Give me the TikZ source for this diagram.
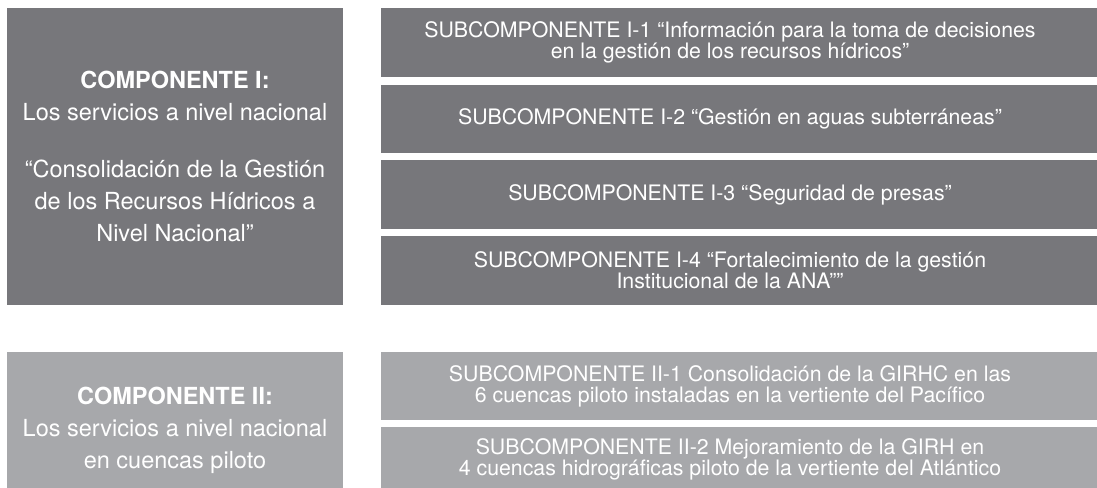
\documentclass[tikz,border=0pt]{standalone}
\usepackage{fontspec}
\setmainfont{TeX Gyre Heros}
\definecolor{darkbox}{HTML}{77777B}
\definecolor{lightbox}{HTML}{A7A8AB}
\newcommand\subfont{\fontsize{21.3}{21}\selectfont\lineskiplimit-30pt\relax}
\newcommand\compfont{\fontsize{23.5}{32}\selectfont}
\begin{document}
\begin{tikzpicture}[x=1pt,y=-1pt,
  box/.style={inner sep=0pt, outer sep=0pt, anchor=north west, text=white, align=center},
  compbox/.style={box, minimum width=336pt, font=\compfont},
  subbox/.style={box, minimum width=716pt, font=\subfont},
  darkfill/.style={fill=darkbox},
  lightfill/.style={fill=lightbox},
  subtext/.style={text=white, align=center, font=\subfont, inner sep=0pt}]
\useasboundingbox (0,0) rectangle (1097,487);
\clip (0,0) rectangle (1097,487);
% Componente I
\node[compbox, darkfill, minimum height=297pt] (c1) at (7,8)
  {\textbf{COMPONENTE I:}\\ Los servicios a nivel nacional\\[25pt]
   “Consolidación de la Gestión\\ de los Recursos Hídricos a\\ Nivel Nacional”};
\node[subbox, darkfill, minimum height=69pt] (s11) at (381,8) {};
\node[subtext] (t11) at ([xshift=-9pt]s11.center)
  {SUBCOMPONENTE I-1 “Información para la toma de decisiones\\ en la gestión de los recursos hídricos”};
\node[subbox, darkfill, minimum height=68pt] (s12) at (381,85) {};
\node[subtext] (t12) at ([xshift=-9pt]s12.center)
  {SUBCOMPONENTE I-2 “Gestión en aguas subterráneas”};
\node[subbox, darkfill, minimum height=69pt] (s13) at (381,160) {};
\node[subtext] (t13) at ([xshift=-9pt]s13.center)
  {SUBCOMPONENTE I-3 “Seguridad de presas”};
\node[subbox, darkfill, minimum height=69pt] (s14) at (381,236) {};
\node[subtext] (t14) at ([xshift=-9pt]s14.center)
  {SUBCOMPONENTE I-4 “Fortalecimiento de la gestión\\ Institucional de la ANA””};
% Componente II
\node[compbox, lightfill, minimum height=156pt] (c2) at (7,352)
  {\textbf{COMPONENTE II:}\\ Los servicios a nivel nacional\\ en cuencas piloto};
\node[subbox, lightfill, minimum height=68pt] (s21) at (381,352) {};
\node[subtext] (t21) at ([xshift=-9pt]s21.center)
  {SUBCOMPONENTE II-1 Consolidación de la GIRHC en las\\ 6 cuencas piloto instaladas en la vertiente del Pacífico};
\node[subbox, lightfill, minimum height=62pt] (s22) at (381,427) {};
\node[subtext] (t22) at ([xshift=-9pt, yshift=-1pt]s22.center)
  {SUBCOMPONENTE II-2 Mejoramiento de la GIRH en\\ 4 cuencas hidrográficas piloto de la vertiente del Atlántico};
\end{tikzpicture}
\end{document}
